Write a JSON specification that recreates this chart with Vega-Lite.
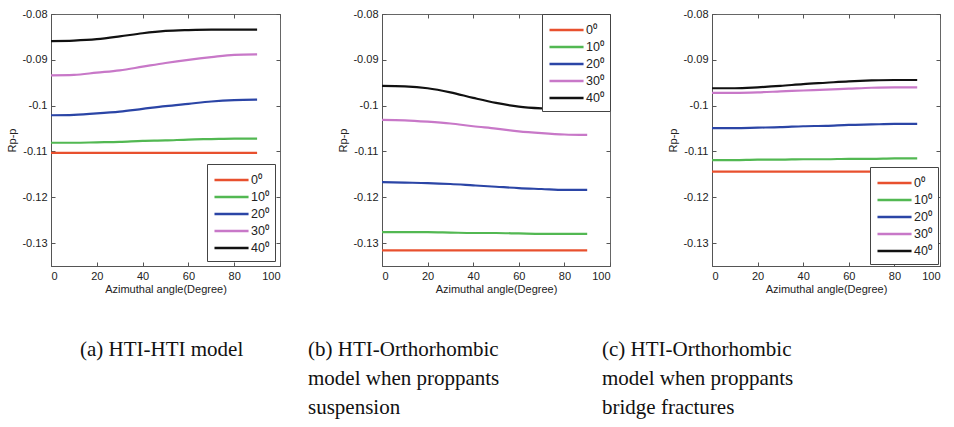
{
  "$schema": "https://vega.github.io/schema/vega-lite/v6.json",
  "background": "white",
  "padding": {"left": 6, "top": 7, "right": 5, "bottom": 0},
  "config": {
    "font": "Liberation Sans",
    "view": {"stroke": "#666", "strokeWidth": 1},
    "axis": {"grid": false, "domainColor": "#555", "tickColor": "#555", "tickSize": -4, "labelPadding": 8,
             "labelFont": "Liberation Sans", "labelFontSize": 11, "labelColor": "#222",
             "titleFont": "Liberation Sans", "titleFontSize": 11, "titleFontWeight": "normal", "titleColor": "#222"},
    "axisY": {"titlePadding": 4},
    "axisX": {"titlePadding": 2},
    "legend": {"labelFont": "Liberation Sans", "labelFontSize": 12.5, "labelColor": "#222", "labelAlign": "left", "fillColor": "white",
               "strokeColor": "#444", "padding": 6, "symbolType": "M-1,0H3", "symbolSize": 290,
               "symbolStrokeWidth": 2.5, "rowPadding": 0, "labelOffset": 18, "offset": 5},
    "title": {"font": "Liberation Serif", "fontSize": 21, "fontWeight": "normal", "color": "#111",
              "orient": "bottom", "anchor": "start", "frame": "group", "lineHeight": 29, "offset": 45},
    "concat": {"spacing": 102}
  },
  "data": {"values": [
    {"p":"a","s":"0⁰","x":0,"y":-0.1103},{"p":"a","s":"0⁰","x":90,"y":-0.1103},
    {"p":"a","s":"10⁰","x":0,"y":-0.1081},{"p":"a","s":"10⁰","x":10,"y":-0.1081},{"p":"a","s":"10⁰","x":20,"y":-0.108},{"p":"a","s":"10⁰","x":30,"y":-0.1079},{"p":"a","s":"10⁰","x":40,"y":-0.1077},{"p":"a","s":"10⁰","x":50,"y":-0.1076},{"p":"a","s":"10⁰","x":60,"y":-0.1074},{"p":"a","s":"10⁰","x":70,"y":-0.1073},{"p":"a","s":"10⁰","x":80,"y":-0.1072},{"p":"a","s":"10⁰","x":90,"y":-0.1072},
    {"p":"a","s":"20⁰","x":0,"y":-0.1021},{"p":"a","s":"20⁰","x":10,"y":-0.102},{"p":"a","s":"20⁰","x":20,"y":-0.1017},{"p":"a","s":"20⁰","x":30,"y":-0.1013},{"p":"a","s":"20⁰","x":40,"y":-0.1007},{"p":"a","s":"20⁰","x":50,"y":-0.1001},{"p":"a","s":"20⁰","x":60,"y":-0.0996},{"p":"a","s":"20⁰","x":70,"y":-0.0991},{"p":"a","s":"20⁰","x":80,"y":-0.0988},{"p":"a","s":"20⁰","x":90,"y":-0.0987},
    {"p":"a","s":"30⁰","x":0,"y":-0.0934},{"p":"a","s":"30⁰","x":10,"y":-0.0933},{"p":"a","s":"30⁰","x":20,"y":-0.0928},{"p":"a","s":"30⁰","x":30,"y":-0.0923},{"p":"a","s":"30⁰","x":40,"y":-0.0915},{"p":"a","s":"30⁰","x":50,"y":-0.0907},{"p":"a","s":"30⁰","x":60,"y":-0.09},{"p":"a","s":"30⁰","x":70,"y":-0.0894},{"p":"a","s":"30⁰","x":80,"y":-0.0889},{"p":"a","s":"30⁰","x":90,"y":-0.0888},
    {"p":"a","s":"40⁰","x":0,"y":-0.0859},{"p":"a","s":"40⁰","x":10,"y":-0.0858},{"p":"a","s":"40⁰","x":20,"y":-0.0855},{"p":"a","s":"40⁰","x":30,"y":-0.0849},{"p":"a","s":"40⁰","x":40,"y":-0.0842},{"p":"a","s":"40⁰","x":50,"y":-0.0837},{"p":"a","s":"40⁰","x":60,"y":-0.0835},{"p":"a","s":"40⁰","x":70,"y":-0.0834},{"p":"a","s":"40⁰","x":80,"y":-0.0834},{"p":"a","s":"40⁰","x":90,"y":-0.0834},

    {"p":"b","s":"0⁰","x":0,"y":-0.1316},{"p":"b","s":"0⁰","x":90,"y":-0.1316},
    {"p":"b","s":"10⁰","x":0,"y":-0.1276},{"p":"b","s":"10⁰","x":10,"y":-0.1276},{"p":"b","s":"10⁰","x":20,"y":-0.1276},{"p":"b","s":"10⁰","x":30,"y":-0.1277},{"p":"b","s":"10⁰","x":40,"y":-0.1278},{"p":"b","s":"10⁰","x":50,"y":-0.1278},{"p":"b","s":"10⁰","x":60,"y":-0.1279},{"p":"b","s":"10⁰","x":70,"y":-0.128},{"p":"b","s":"10⁰","x":80,"y":-0.128},{"p":"b","s":"10⁰","x":90,"y":-0.128},
    {"p":"b","s":"20⁰","x":0,"y":-0.1167},{"p":"b","s":"20⁰","x":10,"y":-0.1168},{"p":"b","s":"20⁰","x":20,"y":-0.1169},{"p":"b","s":"20⁰","x":30,"y":-0.1171},{"p":"b","s":"20⁰","x":40,"y":-0.1174},{"p":"b","s":"20⁰","x":50,"y":-0.1177},{"p":"b","s":"20⁰","x":60,"y":-0.118},{"p":"b","s":"20⁰","x":70,"y":-0.1182},{"p":"b","s":"20⁰","x":80,"y":-0.1184},{"p":"b","s":"20⁰","x":90,"y":-0.1184},
    {"p":"b","s":"30⁰","x":0,"y":-0.1031},{"p":"b","s":"30⁰","x":10,"y":-0.1032},{"p":"b","s":"30⁰","x":20,"y":-0.1035},{"p":"b","s":"30⁰","x":30,"y":-0.1039},{"p":"b","s":"30⁰","x":40,"y":-0.1045},{"p":"b","s":"30⁰","x":50,"y":-0.105},{"p":"b","s":"30⁰","x":60,"y":-0.1056},{"p":"b","s":"30⁰","x":70,"y":-0.106},{"p":"b","s":"30⁰","x":80,"y":-0.1063},{"p":"b","s":"30⁰","x":90,"y":-0.1064},
    {"p":"b","s":"40⁰","x":0,"y":-0.0957},{"p":"b","s":"40⁰","x":10,"y":-0.0958},{"p":"b","s":"40⁰","x":20,"y":-0.0962},{"p":"b","s":"40⁰","x":30,"y":-0.0971},{"p":"b","s":"40⁰","x":40,"y":-0.0983},{"p":"b","s":"40⁰","x":50,"y":-0.0994},{"p":"b","s":"40⁰","x":60,"y":-0.1002},{"p":"b","s":"40⁰","x":70,"y":-0.1006},{"p":"b","s":"40⁰","x":80,"y":-0.1008},{"p":"b","s":"40⁰","x":90,"y":-0.1008},

    {"p":"c","s":"0⁰","x":0,"y":-0.1144},{"p":"c","s":"0⁰","x":90,"y":-0.1144},
    {"p":"c","s":"10⁰","x":0,"y":-0.1119},{"p":"c","s":"10⁰","x":10,"y":-0.1119},{"p":"c","s":"10⁰","x":20,"y":-0.1118},{"p":"c","s":"10⁰","x":30,"y":-0.1118},{"p":"c","s":"10⁰","x":40,"y":-0.1117},{"p":"c","s":"10⁰","x":50,"y":-0.1117},{"p":"c","s":"10⁰","x":60,"y":-0.1116},{"p":"c","s":"10⁰","x":70,"y":-0.1116},{"p":"c","s":"10⁰","x":80,"y":-0.1115},{"p":"c","s":"10⁰","x":90,"y":-0.1115},
    {"p":"c","s":"20⁰","x":0,"y":-0.1049},{"p":"c","s":"20⁰","x":10,"y":-0.1049},{"p":"c","s":"20⁰","x":20,"y":-0.1048},{"p":"c","s":"20⁰","x":30,"y":-0.1047},{"p":"c","s":"20⁰","x":40,"y":-0.1045},{"p":"c","s":"20⁰","x":50,"y":-0.1044},{"p":"c","s":"20⁰","x":60,"y":-0.1042},{"p":"c","s":"20⁰","x":70,"y":-0.1041},{"p":"c","s":"20⁰","x":80,"y":-0.104},{"p":"c","s":"20⁰","x":90,"y":-0.104},
    {"p":"c","s":"30⁰","x":0,"y":-0.0972},{"p":"c","s":"30⁰","x":10,"y":-0.0972},{"p":"c","s":"30⁰","x":20,"y":-0.0971},{"p":"c","s":"30⁰","x":30,"y":-0.0969},{"p":"c","s":"30⁰","x":40,"y":-0.0967},{"p":"c","s":"30⁰","x":50,"y":-0.0965},{"p":"c","s":"30⁰","x":60,"y":-0.0963},{"p":"c","s":"30⁰","x":70,"y":-0.0961},{"p":"c","s":"30⁰","x":80,"y":-0.096},{"p":"c","s":"30⁰","x":90,"y":-0.096},
    {"p":"c","s":"40⁰","x":0,"y":-0.0962},{"p":"c","s":"40⁰","x":10,"y":-0.0962},{"p":"c","s":"40⁰","x":20,"y":-0.096},{"p":"c","s":"40⁰","x":30,"y":-0.0957},{"p":"c","s":"40⁰","x":40,"y":-0.0953},{"p":"c","s":"40⁰","x":50,"y":-0.095},{"p":"c","s":"40⁰","x":60,"y":-0.0947},{"p":"c","s":"40⁰","x":70,"y":-0.0945},{"p":"c","s":"40⁰","x":80,"y":-0.0944},{"p":"c","s":"40⁰","x":90,"y":-0.0944}
  ]},
  "resolve": {"legend": {"color": "independent"}},
  "bounds": "flush",
  "hconcat": [
    {
      "width": 229, "height": 252,
      "title": {"text": "(a) HTI-HTI model", "dx": 29},
      "transform": [{"filter": "datum.p == 'a'"}],
      "resolve": {"axis": {"x": "independent", "y": "independent"}},
      "layer": [
        {
          "mark": {"type": "line", "strokeWidth": 2.2, "interpolate": "monotone"},
          "encoding": {
            "x": {"field": "x", "type": "quantitative", "scale": {"domain": [0, 100]}, "axis": {"values": [0, 20, 40, 60, 80, 100], "title": "Azimuthal angle(Degree)"}},
            "y": {"field": "y", "type": "quantitative", "scale": {"domain": [-0.135, -0.08], "zero": false}, "axis": {"values": [-0.13, -0.12, -0.11, -0.1, -0.09, -0.08], "title": "Rp-p", "labelExpr": "replace(format(datum.value, '~g'), '\u2212', '-')"}},
            "color": {"field": "s", "type": "nominal", "scale": {"domain": ["0⁰", "10⁰", "20⁰", "30⁰", "40⁰"], "range": ["#e8502e", "#52b852", "#2b45a6", "#c878c8", "#111111"]}, "legend": {"orient": "bottom-right", "title": null}}
          }
        },
        {
          "mark": {"type": "line", "opacity": 0},
          "encoding": {
            "x": {"field": "x", "type": "quantitative", "axis": {"orient": "top", "values": [0, 20, 40, 60, 80, 100], "labels": false, "title": null, "domain": false}},
            "y": {"field": "y", "type": "quantitative", "axis": {"orient": "right", "values": [-0.13, -0.12, -0.11, -0.1, -0.09, -0.08], "labels": false, "title": null, "domain": false}},
            "detail": {"field": "s"}
          }
        }
      ]
    },
    {
      "width": 228, "height": 252,
      "title": {"text": ["(b) HTI-Orthorhombic", "\u2002model when proppants", "\u2002suspension"], "dx": -74},
      "transform": [{"filter": "datum.p == 'b'"}],
      "resolve": {"axis": {"x": "independent", "y": "independent"}},
      "layer": [
        {
          "mark": {"type": "line", "strokeWidth": 2.2, "interpolate": "monotone"},
          "encoding": {
            "x": {"field": "x", "type": "quantitative", "scale": {"domain": [0, 100]}, "axis": {"values": [0, 20, 40, 60, 80, 100], "title": "Azimuthal angle(Degree)"}},
            "y": {"field": "y", "type": "quantitative", "scale": {"domain": [-0.135, -0.08], "zero": false}, "axis": {"values": [-0.13, -0.12, -0.11, -0.1, -0.09, -0.08], "title": "Rp-p", "labelExpr": "replace(format(datum.value, '~g'), '\u2212', '-')"}},
            "color": {"field": "s", "type": "nominal", "scale": {"domain": ["0⁰", "10⁰", "20⁰", "30⁰", "40⁰"], "range": ["#e8502e", "#52b852", "#2b45a6", "#c878c8", "#111111"]}, "legend": {"orient": "top-right", "title": null, "offset": 0}}
          }
        },
        {
          "mark": {"type": "line", "opacity": 0},
          "encoding": {
            "x": {"field": "x", "type": "quantitative", "axis": {"orient": "top", "values": [0, 20, 40, 60, 80, 100], "labels": false, "title": null, "domain": false}},
            "y": {"field": "y", "type": "quantitative", "axis": {"orient": "right", "values": [-0.13, -0.12, -0.11, -0.1, -0.09, -0.08], "labels": false, "title": null, "domain": false}},
            "detail": {"field": "s"}
          }
        }
      ]
    },
    {
      "width": 228, "height": 252,
      "title": {"text": ["(c) HTI-Orthorhombic", "\u2002model when proppants", "\u2002bridge fractures"], "dx": -110},
      "transform": [{"filter": "datum.p == 'c'"}],
      "resolve": {"axis": {"x": "independent", "y": "independent"}},
      "layer": [
        {
          "mark": {"type": "line", "strokeWidth": 2.2, "interpolate": "monotone"},
          "encoding": {
            "x": {"field": "x", "type": "quantitative", "scale": {"domain": [0, 100]}, "axis": {"values": [0, 20, 40, 60, 80, 100], "title": "Azimuthal angle(Degree)"}},
            "y": {"field": "y", "type": "quantitative", "scale": {"domain": [-0.135, -0.08], "zero": false}, "axis": {"values": [-0.13, -0.12, -0.11, -0.1, -0.09, -0.08], "title": "Rp-p", "labelExpr": "replace(format(datum.value, '~g'), '\u2212', '-')"}},
            "color": {"field": "s", "type": "nominal", "scale": {"domain": ["0⁰", "10⁰", "20⁰", "30⁰", "40⁰"], "range": ["#e8502e", "#52b852", "#2b45a6", "#c878c8", "#111111"]}, "legend": {"orient": "bottom-right", "title": null, "offset": 2}}
          }
        },
        {
          "mark": {"type": "line", "opacity": 0},
          "encoding": {
            "x": {"field": "x", "type": "quantitative", "axis": {"orient": "top", "values": [0, 20, 40, 60, 80, 100], "labels": false, "title": null, "domain": false}},
            "y": {"field": "y", "type": "quantitative", "axis": {"orient": "right", "values": [-0.13, -0.12, -0.11, -0.1, -0.09, -0.08], "labels": false, "title": null, "domain": false}},
            "detail": {"field": "s"}
          }
        }
      ]
    }
  ]
}
